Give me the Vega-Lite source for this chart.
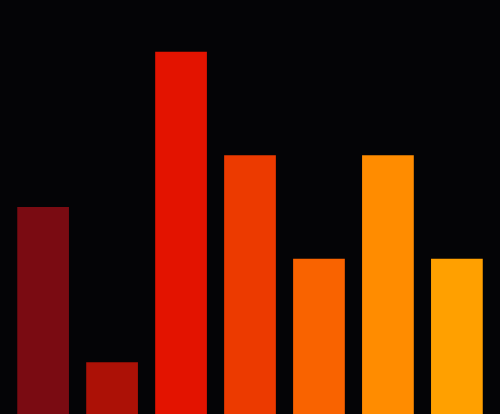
{
  "$schema": "https://vega.github.io/schema/vega-lite/v6.json",
  "autosize": {"type": "fit", "contains": "padding"},
  "width": 500,
  "height": 414,
  "padding": 0,
  "background": "#040406",
  "data": {
    "values": [
      {"item": "A", "value": 4},
      {"item": "B", "value": 1},
      {"item": "C", "value": 7},
      {"item": "D", "value": 5},
      {"item": "E", "value": 3},
      {"item": "F", "value": 5},
      {"item": "G", "value": 3}
    ]
  },
  "mark": {"type": "bar"},
  "encoding": {
    "x": {
      "field": "item",
      "type": "nominal",
      "axis": null,
      "scale": {"paddingInner": 0.25, "paddingOuter": 0.25}
    },
    "y": {
      "field": "value",
      "type": "quantitative",
      "axis": null,
      "scale": {"domain": [0, 8], "nice": false}
    },
    "color": {
      "field": "item",
      "type": "nominal",
      "legend": null,
      "scale": {
        "range": ["#7a0b12", "#ac1106", "#e31300", "#ec3a00", "#f96300", "#ff8c00", "#ffa000"]
      }
    }
  },
  "config": {"view": {"stroke": null}}
}
